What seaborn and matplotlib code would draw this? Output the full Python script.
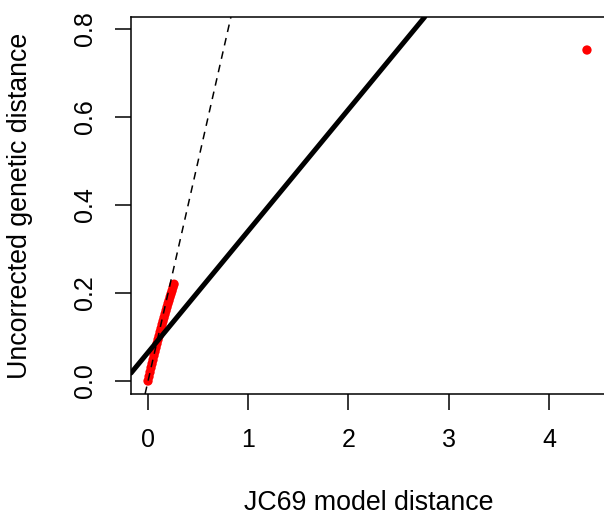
import numpy as np
import pandas as pd
import matplotlib
matplotlib.use("Agg")
import matplotlib.pyplot as plt
import seaborn as sns

# JC69 distance vs uncorrected p-distance
jc69_dist = [0.00, 0.01, 0.02, 0.03, 0.04, 0.05, 0.06, 0.07, 0.08, 0.09,
             0.10, 0.11, 0.12, 0.13, 0.14, 0.15, 0.16, 0.17, 0.18, 0.19,
             0.20, 0.21, 0.22, 0.23, 0.24, 0.25, 0.26, 4.38]
p_dist = [0.000, 0.010, 0.020, 0.030, 0.039, 0.048, 0.058, 0.067, 0.076, 0.085,
          0.094, 0.102, 0.111, 0.119, 0.128, 0.136, 0.144, 0.152, 0.160, 0.168,
          0.176, 0.183, 0.191, 0.198, 0.205, 0.213, 0.220, 0.752]

# fitted line (thick) and identity line (dashed)
fit_intercept = 0.065
fit_slope = 0.276

xticks = [0, 1, 2, 3, 4]
yticks = [0.0, 0.2, 0.4, 0.6, 0.8]
ytick_labels = ["0.0", "0.2", "0.4", "0.6", "0.8"]

df = pd.DataFrame({"d": jc69_dist, "p": p_dist})

sns.set_style("ticks")
plt.rcParams["font.family"] = ["Liberation Sans", "DejaVu Sans"]

fig = plt.figure(figsize=(6.04, 5.2), dpi=100)
ax = fig.add_axes([131 / 604, 126 / 520, 475.5 / 604, 377 / 520])

sns.scatterplot(data=df, x="d", y="p", color="red", s=45, edgecolor="none",
                ax=ax, zorder=2)
ax.axline((0, 0), slope=1, color="black", lw=1.1, linestyle=(0, (5, 4)), zorder=3)
ax.axline((0, fit_intercept), slope=fit_slope, color="black", lw=3.6, zorder=4)

ax.set_xlim(-0.17, 4.575)
ax.set_ylim(-0.0295, 0.827)
ax.set_xticks(xticks)
ax.set_yticks(yticks)
ax.set_yticklabels(ytick_labels)
ax.tick_params(axis="both", direction="out", length=11.5, width=1.1,
               labelsize=18, pad=13, color="black", labelcolor="black")
plt.setp(ax.get_yticklabels(), rotation=90, va="center")

for sp in ax.spines.values():
    sp.set_visible(True)
    sp.set_color("black")
    sp.set_linewidth(1.1)

ax.set_xlabel("JC69 model distance", fontsize=19.3, va="center", color="black")
ax.set_ylabel("Uncorrected genetic distance", fontsize=19.3, va="center", color="black")
ax.xaxis.set_label_coords(0.5, -(503 - 394) / 377)
ax.yaxis.set_label_coords(-(131 - 20) / 475.5, 0.5)

fig.savefig("out.png", dpi=100)
